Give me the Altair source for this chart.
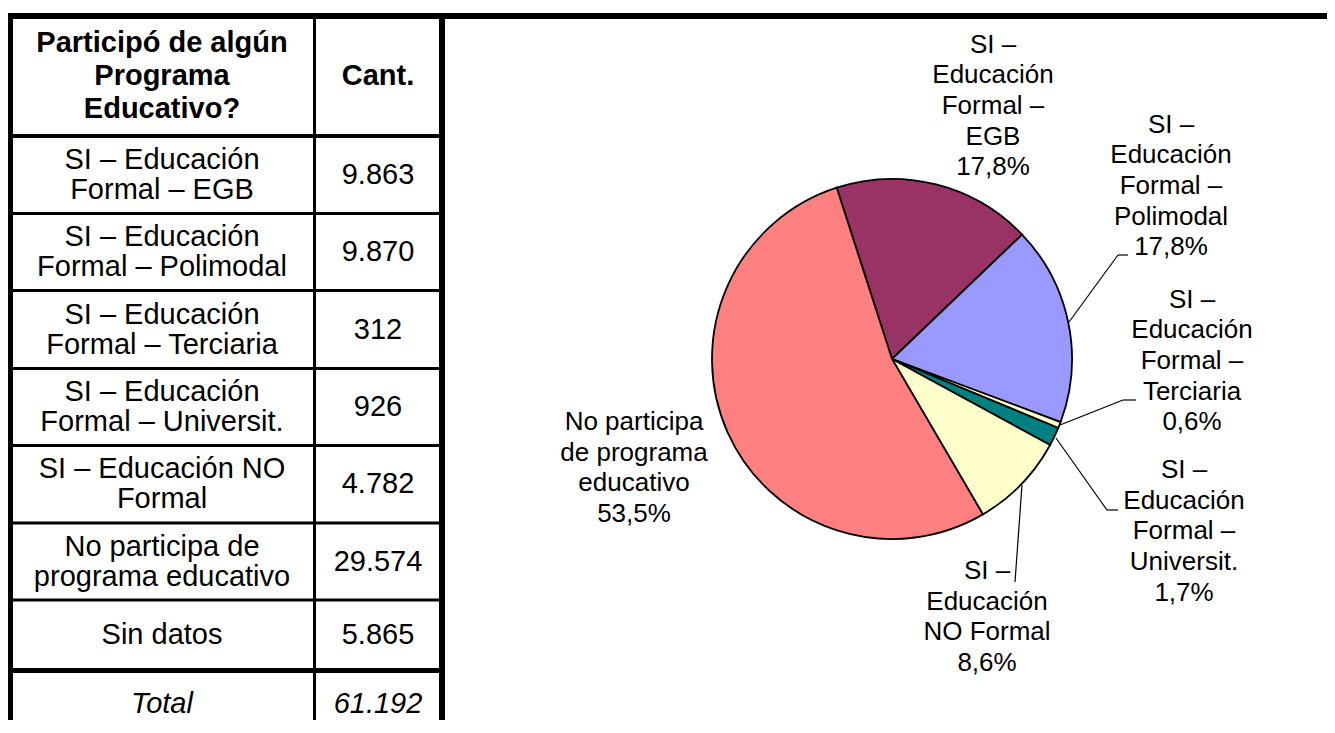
import math
import altair as alt
import pandas as pd

# ---------------- data ----------------
categories = [
    "SI – Educación Formal – EGB",
    "SI – Educación Formal – Polimodal",
    "SI – Educación Formal – Terciaria",
    "SI – Educación Formal – Universit.",
    "SI – Educación NO Formal",
    "No participa de programa educativo",
    "Sin datos",
]
counts = [9863, 9870, 312, 926, 4782, 29574, 5865]

table_labels = [
    "SI – Educación\nFormal – EGB",
    "SI – Educación\nFormal – Polimodal",
    "SI – Educación\nFormal – Terciaria",
    "SI – Educación\nFormal – Universit.",
    "SI – Educación NO\nFormal",
    "No participa de\nprograma educativo",
    "Sin datos",
]
header_labels = ["Participó de algún\nPrograma\nEducativo?", "Cant."]
total_label = "Total"

# pie uses the first six categories (without "Sin datos")
pie_names = categories[:6]
pie_values = counts[:6]
pie_label_text = [
    "SI –\nEducación\nFormal –\nEGB",
    "SI –\nEducación\nFormal –\nPolimodal",
    "SI –\nEducación\nFormal –\nTerciaria",
    "SI –\nEducación\nFormal –\nUniversit.",
    "SI –\nEducación\nNO Formal",
    "No participa\nde programa\neducativo",
]
slice_colors = ["#993366", "#9999FF", "#FFFFCC", "#008080", "#FFFFCC", "#FF8080"]

# ---------------- layout (page pixels) ----------------
W, H, OFF = 1319, 712, 8
FONT = "Liberation Sans"
row_edges = [16, 136, 213.5, 290.5, 368.5, 445.5, 523, 600, 670.5]
col_x = [162, 378]
header_y = 76
total_y = 704
pie_cx, pie_cy, pie_r = 892, 359, 180
start_angle = math.radians(-17.9)
label_x = [993, 1171, 1192, 1184, 987, 634]
label_y = [106, 186, 361, 531.5, 617, 468]
LH_HEAD, LH_BODY, LH_PIE = 33.3, 30.0, 30.7
leaders = [
    (1069, 322, 1118, 255), (1118, 255, 1128, 255),
    (1060, 425, 1123, 400), (1123, 400, 1136, 400),
    (1056, 438, 1107, 510), (1107, 510, 1118, 510),
    (1022, 485, 1015, 582),
]
table_rules = [
    # x, x2, y, y2, width
    (7, 1340, 16, 16, 6),
    (10, 442, 136, 136, 4),
    (10, 442, 213.5, 213.5, 3),
    (10, 442, 290.5, 290.5, 3),
    (10, 442, 368.5, 368.5, 3),
    (10, 442, 445.5, 445.5, 3),
    (10, 442, 523, 523, 3),
    (10, 442, 600, 600, 3),
    (10, 442, 670.5, 670.5, 5),
    (10, 10, 13, 740, 6),
    (314.5, 314.5, 16, 740, 3),
    (442, 442, 13, 740, 6),
]


def fmt(n):
    return f"{n:,}".replace(",", ".")


def first_line_y(center, text, lh, extra_lines=0):
    n = text.count("\n") + 1 + extra_lines
    return center - (n - 1) * lh / 2


# ---------------- tables for the library ----------------
rules_df = pd.DataFrame(
    [dict(x=a - OFF, x2=b - OFF, y=c - OFF, y2=d - OFF, w=e) for a, b, c, d, e in table_rules]
)
lead_df = pd.DataFrame(
    [dict(x=a - OFF, y=b - OFF, x2=c - OFF, y2=d - OFF) for a, b, c, d in leaders]
)

header_df = pd.DataFrame(
    dict(
        x=[c - OFF for c in col_x],
        y=[first_line_y(header_y, t, LH_HEAD) - OFF for t in header_labels],
        text=header_labels,
    )
)
body_rows = []
for i, (lab, n) in enumerate(zip(table_labels, counts)):
    cy = (row_edges[i + 1] + row_edges[i + 2]) / 2
    body_rows.append(dict(x=col_x[0] - OFF, y=first_line_y(cy, lab, LH_BODY) - OFF, text=lab))
    body_rows.append(dict(x=col_x[1] - OFF, y=cy - OFF, text=fmt(n)))
body_df = pd.DataFrame(body_rows)
total_df = pd.DataFrame(
    dict(x=[c - OFF for c in col_x], y=[total_y - OFF] * 2, text=[total_label, fmt(sum(counts))])
)

pie_df = pd.DataFrame(
    dict(
        name=pie_names,
        value=pie_values,
        idx=list(range(len(pie_names))),
        lbl=pie_label_text,
        lx=[v - OFF for v in label_x],
        ly=[first_line_y(c, t, LH_PIE, extra_lines=1) - OFF
            for c, t in zip(label_y, pie_label_text)],
    )
)

# ---------------- marks ----------------
rules = alt.Chart(rules_df).mark_rule(color="black").encode(
    x=alt.X("x:Q", scale=None),
    x2="x2:Q",
    y=alt.Y("y:Q", scale=None),
    y2="y2:Q",
    strokeWidth=alt.StrokeWidth("w:Q", scale=None),
)

pie = alt.Chart(pie_df).mark_arc(outerRadius=pie_r, stroke="black", strokeWidth=1.8).encode(
    theta=alt.Theta(
        "value:Q", stack=True,
        scale=alt.Scale(range=[start_angle, start_angle + 2 * math.pi]),
    ),
    color=alt.Color("name:N", scale=alt.Scale(domain=pie_names, range=slice_colors), legend=None),
    order=alt.Order("idx:Q"),
    x=alt.value(pie_cx - OFF),
    y=alt.value(pie_cy - OFF),
)

lead = alt.Chart(lead_df).mark_rule(color="black", strokeWidth=1.2).encode(
    x=alt.X("x:Q", scale=None), x2="x2:Q",
    y=alt.Y("y:Q", scale=None), y2="y2:Q",
)

pie_text = (
    alt.Chart(pie_df)
    .transform_joinaggregate(total="sum(value)")
    .transform_calculate(
        label="datum.lbl + '\\n' + replace(format(datum.value / datum.total, '.1%'), '.', ',')"
    )
    .mark_text(font=FONT, fontSize=26, lineHeight=LH_PIE, lineBreak="\n",
               align="center", baseline="middle", color="black")
    .encode(x=alt.X("lx:Q", scale=None), y=alt.Y("ly:Q", scale=None), text="label:N")
)

header_text = alt.Chart(header_df).mark_text(
    font=FONT, fontSize=29, fontWeight="bold", lineHeight=LH_HEAD, lineBreak="\n",
    align="center", baseline="middle", color="black",
).encode(x=alt.X("x:Q", scale=None), y=alt.Y("y:Q", scale=None), text="text:N")

body_text = alt.Chart(body_df).mark_text(
    font=FONT, fontSize=29, lineHeight=LH_BODY, lineBreak="\n",
    align="center", baseline="middle", color="black",
).encode(x=alt.X("x:Q", scale=None), y=alt.Y("y:Q", scale=None), text="text:N")

total_text = alt.Chart(total_df).mark_text(
    font=FONT, fontSize=29, fontStyle="italic",
    align="center", baseline="middle", color="black",
).encode(x=alt.X("x:Q", scale=None), y=alt.Y("y:Q", scale=None), text="text:N")

chart = (
    alt.layer(rules, pie, lead, pie_text, header_text, body_text, total_text)
    .properties(width=W, height=H, padding=0, autosize=alt.AutoSizeParams(type="none"),
                background="white")
    .configure_view(stroke=None)
)

chart.save("out.html", embed_options={"renderer": "svg", "actions": False})
